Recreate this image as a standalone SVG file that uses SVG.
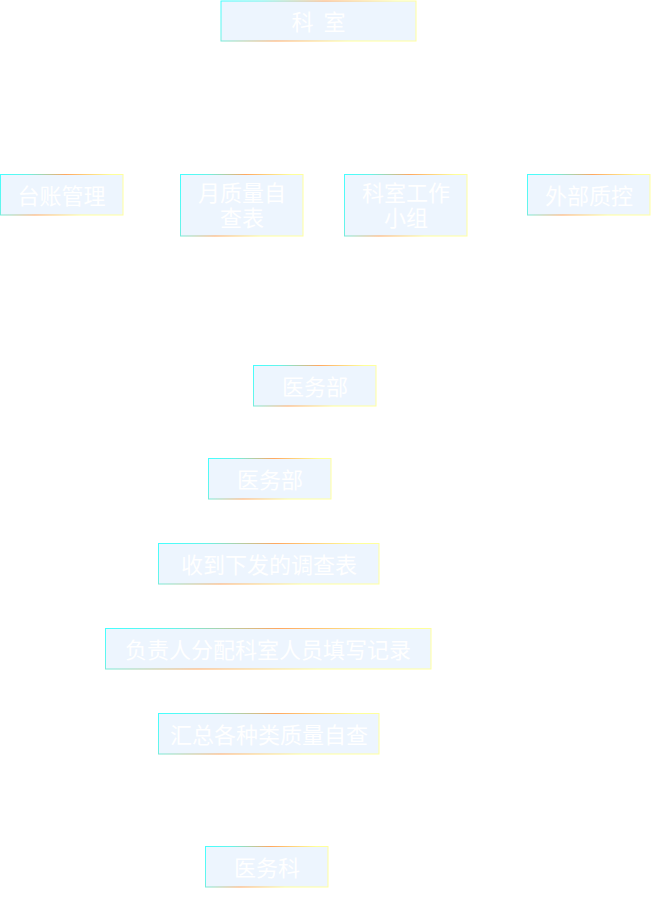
<svg xmlns="http://www.w3.org/2000/svg" width="651" height="909" viewBox="0 0 651 909">
<defs>
<linearGradient id="bd" x1="0" y1="0" x2="1" y2="0.25">
<stop offset="0" stop-color="#44ffff"/>
<stop offset="0.2" stop-color="#66f4ea"/>
<stop offset="0.5" stop-color="#ffa860"/>
<stop offset="0.85" stop-color="#ffff99"/>
<stop offset="1" stop-color="#ffffa0"/>
</linearGradient>
</defs>
<style>
.box{fill:#edf5fe;stroke:url(#bd);stroke-width:1}
.t{font-family:"Noto Sans CJK SC","Noto Sans",sans-serif;font-size:22px;fill:#ffffff;text-anchor:middle;dominant-baseline:central}
</style>
<rect width="651" height="909" fill="#ffffff"/>
<g id="connectors"></g>
<g id="n1"><rect class="box" x="221" y="1" width="195" height="40"/><text class="t" x="318.5" y="20" xml:space="preserve">科  室</text></g>
<g id="n2"><rect class="box" x="0.5" y="174.5" width="122.5" height="40.5"/><text class="t" x="61.5" y="194">台账管理</text></g>
<g id="n3"><rect class="box" x="180.5" y="174.5" width="122.5" height="61.5"/><text class="t" x="242" y="191">月质量自<tspan x="242" dy="25">查表</tspan></text></g>
<g id="n4"><rect class="box" x="344.5" y="174.5" width="122.5" height="61.5"/><text class="t" x="406" y="191">科室工作<tspan x="406" dy="25">小组</tspan></text></g>
<g id="n5"><rect class="box" x="527.5" y="174.5" width="122.5" height="40.5"/><text class="t" x="589" y="194">外部质控</text></g>
<g id="n6"><rect class="box" x="253.5" y="365.5" width="122.5" height="40.5"/><text class="t" x="315" y="385">医务部</text></g>
<g id="n7"><rect class="box" x="208.5" y="458.5" width="122.5" height="40.5"/><text class="t" x="270" y="478">医务部</text></g>
<g id="n8"><rect class="box" x="158.5" y="543.5" width="220.5" height="40.5"/><text class="t" x="269" y="563">收到下发的调查表</text></g>
<g id="n9"><rect class="box" x="105.5" y="628.5" width="325.5" height="40.5"/><text class="t" x="268" y="648">负责人分配科室人员填写记录</text></g>
<g id="n10"><rect class="box" x="158.5" y="713.5" width="220.5" height="40.5"/><text class="t" x="269" y="733">汇总各种类质量自查</text></g>
<g id="n11"><rect class="box" x="205.5" y="846.5" width="122.5" height="40.5"/><text class="t" x="267" y="866">医务科</text></g>
</svg>
